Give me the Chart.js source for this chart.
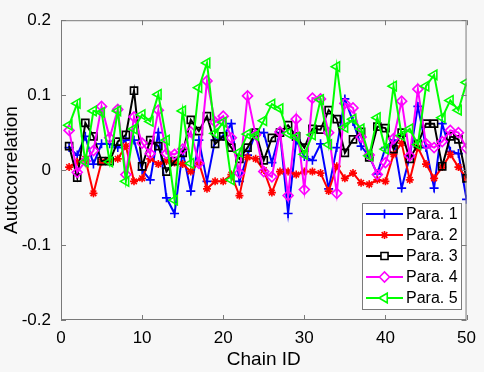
<!DOCTYPE html>
<html>
<head>
<meta charset="utf-8">
<script src="https://cdn.jsdelivr.net/npm/chart.js@4/dist/chart.umd.min.js"></script>
<style>
  html, body { margin: 0; padding: 0; background: #f7f7f7; }
  #wrap { width: 484px; height: 372px; position: relative; }
</style>
</head>
<body>
<div id="wrap"><canvas id="grafico"></canvas></div>
<script>
// dados
const chainIds = [1,2,3,4,5,6,7,8,9,10,11,12,13,14,15,16,17,18,19,20,21,22,23,24,25,
                  26,27,28,29,30,31,32,33,34,35,36,37,38,39,40,41,42,43,44,45,46,47,48,49,50];

const para1 = [0.030, 0.020, 0.045, 0.008, 0.035, 0.035, 0.030, 0.040, 0.040, 0.000,
               -0.013, 0.050, -0.037, -0.058, 0.025, -0.028, 0.040, -0.015, 0.040, 0.045,
               0.062, -0.015, 0.020, 0.050, 0.050, 0.010, 0.050, -0.058, 0.040, 0.018,
               0.013, 0.035, -0.025, 0.030, 0.095, 0.065, 0.032, 0.018, -0.005, 0.030,
               0.040, -0.024, 0.018, 0.085, 0.030, -0.024, 0.062, 0.025, 0.022, -0.039];

const para2 = [0.004, 0.011, 0.015, -0.031, 0.011, 0.013, 0.015, 0.032, -0.015, -0.011,
               0.015, 0.008, 0.012, 0.010, 0.008, -0.002, 0.010, -0.025, -0.015, -0.015,
               -0.006, -0.034, 0.017, 0.015, 0.000, -0.030, -0.002, -0.002, -0.006, -0.002,
               -0.002, -0.004, -0.028, 0.005, -0.011, -0.004, -0.017, -0.019, -0.013, -0.015,
               0.021, 0.036, -0.013, 0.030, 0.008, -0.011, 0.004, 0.021, 0.004, -0.011];

const para3 = [0.032, -0.010, 0.063, 0.045, 0.012, 0.012, 0.038, 0.047, 0.106, 0.005,
               0.040, 0.032, -0.002, 0.012, 0.023, 0.067, 0.052, 0.072, 0.035, 0.045,
               0.030, 0.015, 0.030, 0.050, 0.013, 0.043, 0.050, 0.060, 0.045, 0.030,
               0.055, 0.054, 0.080, 0.068, 0.023, 0.041, 0.051, 0.017, 0.058, 0.056,
               0.028, 0.050, 0.015, 0.035, 0.062, 0.062, 0.005, 0.045, 0.041, -0.011];

const para4 = [0.053, -0.003, 0.012, 0.026, 0.085, 0.043, 0.081, -0.006, 0.071, 0.036,
               0.022, 0.080, 0.022, 0.021, 0.028, 0.051, 0.009, 0.119, 0.064, 0.072,
               0.043, -0.004, 0.099, 0.047, -0.002, -0.009, 0.051, -0.034, 0.068, -0.026,
               0.096, 0.095, 0.050, -0.031, 0.089, 0.083, 0.044, 0.020, -0.006, 0.010,
               0.042, 0.092, 0.019, 0.108, 0.035, 0.030, 0.038, 0.053, 0.050, 0.029];

const para5 = [0.060, 0.089, 0.011, 0.079, 0.077, 0.011, 0.079, -0.015, 0.055, 0.074,
               0.065, 0.101, 0.040, -0.040, 0.079, 0.009, 0.110, 0.143, 0.049, 0.064,
               -0.013, 0.024, 0.048, 0.046, 0.066, 0.088, 0.082, 0.049, 0.044, 0.021,
               0.047, 0.094, 0.034, 0.138, 0.057, 0.068, 0.055, 0.019, 0.070, 0.028,
               0.112, 0.046, 0.055, 0.034, 0.112, 0.127, 0.070, 0.093, 0.080, 0.117];

const nomes = ['Para. 1', 'Para. 2', 'Para. 3', 'Para. 4', 'Para. 5'];
const cores = ['#0000ff', '#ff0000', '#000000', '#ff00ff', '#00ff00'];
const marcadores = ['cross', 'star', 'rect', 'rectRot', 'triangle'];
const raios = [4.5, 4, 5, 5, 5.5];
const rotacoes = [0, 0, 0, 0, -90];
const series = [para1, para2, para3, para4, para5];

const xTicks = [0, 10, 20, 30, 40, 50];
const yTicks = [-0.2, -0.1, 0, 0.1, 0.2];

const fonte = 'Liberation Sans, Arial, sans-serif';

function pontos(valores) {
    let out = [];
    for (let i = 0; i < chainIds.length; i++) {
        out.push({ x: chainIds[i], y: valores[i] });
    }
    return out;
}

let datasets = [];
for (let k = 0; k < series.length; k++) {
    datasets.push({
        label: nomes[k],
        data: pontos(series[k]),
        borderColor: cores[k],
        backgroundColor: 'rgba(0,0,0,0)',
        borderWidth: 2,
        pointStyle: marcadores[k],
        pointRadius: raios[k],
        pointRotation: rotacoes[k],
        pointBorderColor: cores[k],
        pointBackgroundColor: 'rgba(0,0,0,0)',
        pointBorderWidth: 1.6,
        tension: 0,
        order: series.length - k   // Para. 5 por cima, como no MATLAB
    });
}

// caixa do eixo + ticks para dentro + legenda
const caixaEixos = {
    id: 'caixaEixos',
    beforeDraw(chart) {
        const a = chart.chartArea;
        const ctx = chart.ctx;
        ctx.save();
        ctx.fillStyle = '#f9f9f9';
        ctx.fillRect(a.left, a.top, a.right - a.left, a.bottom - a.top);
        ctx.restore();
    },
    afterDraw(chart) {
        const a = chart.chartArea;
        const ctx = chart.ctx;
        const sx = chart.scales.x;
        const sy = chart.scales.y;
        const t = 5;
        ctx.save();
        ctx.strokeStyle = '#7a7a7a';
        ctx.lineWidth = 1;
        ctx.strokeRect(a.left + 0.5, a.top + 0.5, a.right - a.left - 1, a.bottom - a.top - 1);
        ctx.beginPath();
        for (let i = 0; i < xTicks.length; i++) {
            const px = Math.round(sx.getPixelForValue(xTicks[i])) + 0.5;
            ctx.moveTo(px, a.bottom); ctx.lineTo(px, a.bottom - t);
            ctx.moveTo(px, a.top); ctx.lineTo(px, a.top + t);
        }
        for (let i = 0; i < yTicks.length; i++) {
            const py = Math.round(sy.getPixelForValue(yTicks[i])) + 0.5;
            ctx.moveTo(a.left, py); ctx.lineTo(a.left + t, py);
            ctx.moveTo(a.right, py); ctx.lineTo(a.right - t, py);
        }
        ctx.stroke();

        // legenda dentro do grafico
        const lx = 362, ly = 203, lw = 99, lh = 106;
        ctx.fillStyle = '#ffffff';
        ctx.fillRect(lx, ly, lw, lh);
        ctx.strokeStyle = '#7a7a7a';
        ctx.lineWidth = 1;
        ctx.strokeRect(lx + 0.5, ly + 0.5, lw, lh);
        for (let k = 0; k < nomes.length; k++) {
            const cy = ly + 11 + k * 21;
            ctx.strokeStyle = cores[k];
            ctx.lineWidth = 2;
            ctx.beginPath();
            ctx.moveTo(366, cy); ctx.lineTo(403, cy);
            ctx.stroke();
            ctx.lineWidth = 1.6;
            ctx.fillStyle = '#ffffff';
            if (Chart.helpers && Chart.helpers.drawPoint) {
                Chart.helpers.drawPoint(ctx, {
                    pointStyle: marcadores[k],
                    radius: raios[k],
                    rotation: rotacoes[k],
                    borderWidth: 1.6
                }, 384.5, cy);
            }
            ctx.fillStyle = '#000000';
            ctx.font = '16px ' + fonte;
            ctx.textBaseline = 'middle';
            ctx.textAlign = 'left';
            ctx.fillText(nomes[k], 406, cy + 1);
        }
        ctx.restore();
    }
};

Chart.defaults.font.family = fonte;
Chart.defaults.color = '#000000';

new Chart(document.getElementById('grafico'), {
    type: 'line',
    data: { datasets: datasets },
    plugins: [caixaEixos],
    options: {
        responsive: true,
        maintainAspectRatio: false,
        animation: false,
        events: [],
        layout: {
            padding: { top: 7, right: 10, left: 0, bottom: 0 }
        },
        plugins: {
            legend: { display: false },
            title: { display: false },
            tooltip: { enabled: false }
        },
        scales: {
            x: {
                type: 'linear',
                min: 0,
                max: 50,
                afterFit(s) { s.height = 52; },
                afterBuildTicks(s) { s.ticks = xTicks.map(v => ({ value: v })); },
                ticks: {
                    color: '#000000',
                    font: { size: 17 },
                    padding: 8,
                    maxRotation: 0
                },
                grid: { display: false, drawTicks: false },
                border: { display: false },
                title: {
                    display: true,
                    text: 'Chain ID',
                    color: '#000000',
                    font: { size: 19 },
                    padding: { top: 0, bottom: 1 }
                }
            },
            y: {
                min: -0.2,
                max: 0.2,
                afterFit(s) { s.width = 61; },
                afterBuildTicks(s) { s.ticks = yTicks.map(v => ({ value: v })); },
                ticks: {
                    color: '#000000',
                    font: { size: 17 },
                    padding: 10,
                    callback: v => String(Math.round(v * 10) / 10)
                },
                grid: { display: false, drawTicks: false },
                border: { display: false },
                title: {
                    display: true,
                    text: 'Autocorrelation',
                    color: '#000000',
                    font: { size: 19 },
                    padding: { top: 0, bottom: 0 }
                }
            }
        }
    }
});
</script>
</body>
</html>
